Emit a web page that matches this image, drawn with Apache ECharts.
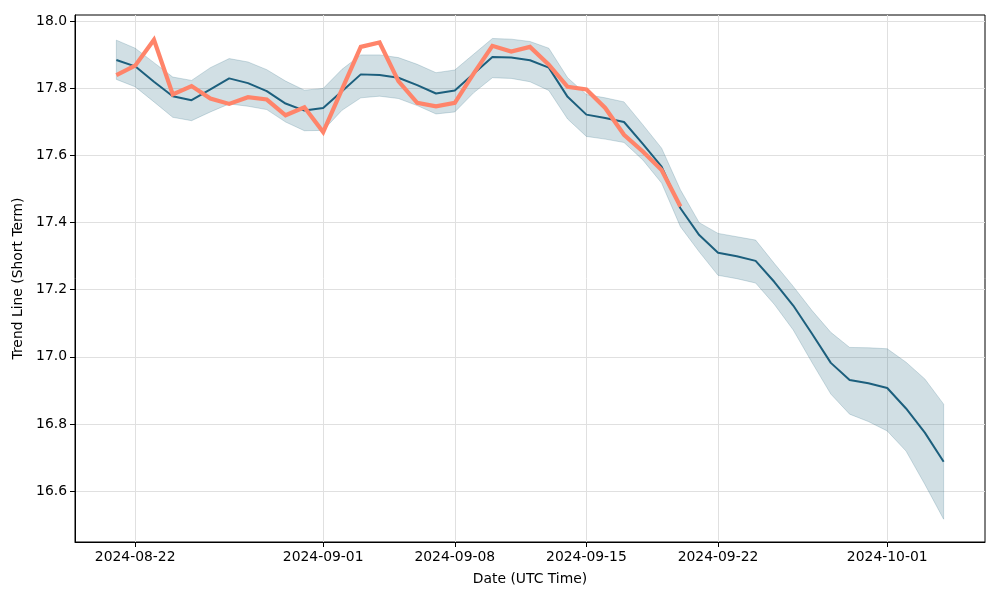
<!DOCTYPE html>
<html>
<head>
<meta charset="utf-8">
<script src="https://cdn.jsdelivr.net/npm/echarts@6/dist/echarts.min.js"></script>
<style>html,body{margin:0;padding:0;background:#fff}#c{width:1000px;height:600px}</style>
</head>
<body>
<div id="c"></div>
<script>
const dates = ['2024-08-21','2024-08-22','2024-08-23','2024-08-24','2024-08-25','2024-08-26','2024-08-27','2024-08-28','2024-08-29','2024-08-30',
'2024-08-31','2024-09-01','2024-09-02','2024-09-03','2024-09-04','2024-09-05','2024-09-06','2024-09-07','2024-09-08','2024-09-09',
'2024-09-10','2024-09-11','2024-09-12','2024-09-13','2024-09-14','2024-09-15','2024-09-16','2024-09-17','2024-09-18','2024-09-19',
'2024-09-20','2024-09-21','2024-09-22','2024-09-23','2024-09-24','2024-09-25','2024-09-26','2024-09-27','2024-09-28','2024-09-29',
'2024-09-30','2024-10-01','2024-10-02','2024-10-03','2024-10-04'];
const trend = [17.885,17.866,17.82,17.777,17.765,17.797,17.83,17.816,17.792,17.755,
17.734,17.742,17.792,17.842,17.84,17.832,17.81,17.785,17.794,17.844,
17.894,17.892,17.884,17.862,17.775,17.722,17.712,17.70,17.635,17.567,
17.443,17.363,17.31,17.30,17.286,17.223,17.153,17.069,16.982,16.931,
16.921,16.907,16.846,16.774,16.687];
const upper = [17.944,17.92,17.877,17.834,17.824,17.862,17.889,17.879,17.856,17.822,
17.795,17.80,17.857,17.90,17.90,17.892,17.872,17.847,17.855,17.902,
17.949,17.947,17.94,17.92,17.832,17.782,17.772,17.76,17.692,17.622,
17.498,17.40,17.368,17.358,17.348,17.278,17.21,17.138,17.073,17.028,
17.027,17.024,16.984,16.934,16.859];
const lower = [17.827,17.805,17.76,17.714,17.704,17.73,17.754,17.747,17.737,17.70,
17.674,17.675,17.735,17.772,17.777,17.77,17.749,17.724,17.73,17.787,
17.832,17.83,17.82,17.794,17.709,17.657,17.649,17.639,17.587,17.518,
17.388,17.313,17.243,17.233,17.22,17.156,17.08,16.983,16.889,16.829,
16.807,16.779,16.719,16.62,16.516];
const price = [17.84,17.868,17.945,17.782,17.807,17.77,17.754,17.774,17.767,17.72,
17.744,17.67,17.797,17.924,17.937,17.822,17.757,17.747,17.757,17.844,
17.927,17.91,17.924,17.871,17.805,17.797,17.742,17.662,17.612,17.557,
17.448];
const xTickDates = ['2024-08-22','2024-09-01','2024-09-08','2024-09-15','2024-09-22','2024-10-01'];
const yTicks = [16.6,16.8,17.0,17.2,17.4,17.6,17.8,18.0];

const t = s => Date.parse(s + 'T00:00:00Z');
const xs = dates.map(t);
const pad = (xs[xs.length-1] - xs[0]) * 0.05;
const xMin = xs[0] - pad, xMax = xs[xs.length-1] + pad;
const xTicks = xTickDates.map(t);
const fmt = v => { const d = new Date(v); const p = n => String(n).padStart(2,'0'); return d.getUTCFullYear()+'-'+p(d.getUTCMonth()+1)+'-'+p(d.getUTCDate()); };

const FONT = 'DejaVu Sans';
const pair = arr => arr.map((v,i) => [xs[i], v]);
const bandData = xs.map((x,i) => [x, lower[i], upper[i]]);

const chart = echarts.init(document.getElementById('c'), null, {renderer:'canvas'});
chart.setOption({
  animation: false,
  backgroundColor: '#fff',
  textStyle: {fontFamily: FONT},
  grid: {left: 75, right: 15, top: 15, bottom: 58, show: true, borderColor: '#000', borderWidth: 1, backgroundColor: 'transparent'},
  xAxis: {
    type: 'value', min: xMin, max: xMax, scale: true,
    name: 'Date (UTC Time)', nameLocation: 'middle', nameGap: 30,
    nameTextStyle: {fontFamily: FONT, fontSize: 13.9, color: '#000'},
    axisLine: {show: true, onZero: false, lineStyle: {color: '#000', width: 1}},
    axisTick: {show: true, length: 5, customValues: xTicks, lineStyle: {color: '#000'}},
    axisLabel: {customValues: xTicks, formatter: v => fmt(v), fontFamily: FONT, fontSize: 13.9, color: '#000', margin: 8, hideOverlap: false},
    splitLine: {show: true, lineStyle: {color: '#e0e0e0', width: 1}}
  },
  yAxis: {
    type: 'value', min: 16.448, max: 18.019, scale: true,
    name: 'Trend Line (Short Term)', nameLocation: 'middle', nameGap: 46,
    nameTextStyle: {fontFamily: FONT, fontSize: 13.9, color: '#000'},
    axisLine: {show: true, onZero: false, lineStyle: {color: '#000', width: 1}},
    axisTick: {show: true, length: 5, customValues: yTicks, lineStyle: {color: '#000'}},
    axisLabel: {customValues: yTicks, formatter: v => v.toFixed(1), fontFamily: FONT, fontSize: 13.9, color: '#000', margin: 8},
    splitLine: {show: true, lineStyle: {color: '#e0e0e0', width: 1}}
  },
  series: [
    {
      type: 'custom', data: bandData, z: 1, silent: true, clip: true,
      encode: {x: 0, y: [1, 2]},
      renderItem: function (params, api) {
        if (params.dataIndex !== 0) return null;
        const top = [], bot = [];
        for (let i = 0; i < bandData.length; i++) {
          top.push(api.coord([bandData[i][0], bandData[i][2]]));
          bot.push(api.coord([bandData[i][0], bandData[i][1]]));
        }
        const pts = top.concat(bot.reverse());
        return {
          type: 'polygon',
          shape: {points: pts},
          style: {fill: 'rgba(26,95,122,0.2)', stroke: 'rgba(26,95,122,0.2)', lineWidth: 1}
        };
      }
    },
    {type: 'line', data: pair(trend), symbol: 'none', lineStyle: {color: '#1c5f7d', width: 2}, z: 3},
    {type: 'line', data: pair(price), symbol: 'none', lineStyle: {color: '#ff846a', width: 4.2, cap: 'butt', join: 'miter'}, z: 4}
  ]
});
</script>
</body>
</html>
